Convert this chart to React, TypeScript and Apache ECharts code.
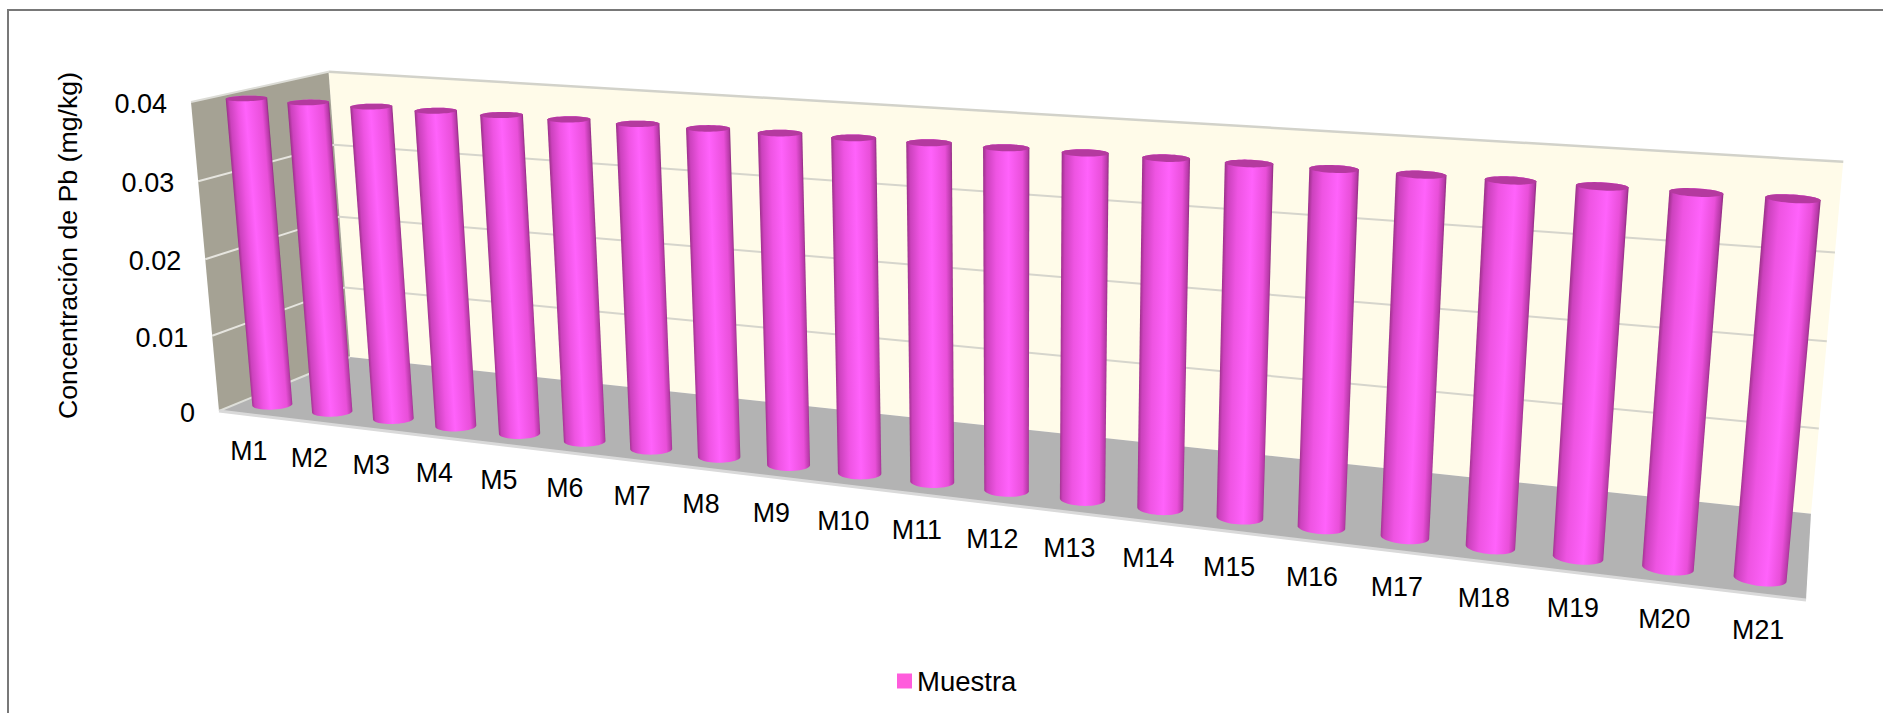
import React, { useEffect, useRef } from "react";
import * as echarts from "echarts";

const categories = ["M1","M2","M3","M4","M5","M6","M7","M8","M9","M10","M11","M12","M13","M14","M15","M16","M17","M18","M19","M20","M21"];
const muestra = [0.04,0.04,0.04,0.04,0.04,0.04,0.04,0.04,0.04,0.04,0.04,0.04,0.04,0.04,0.04,0.04,0.04,0.04,0.04,0.04,0.04];
const yTicks = [0, 0.01, 0.02, 0.03, 0.04];
const yTickLabels = ["0", "0.01", "0.02", "0.03", "0.04"];
const yMax = 0.04;

const FONT = '"Liberation Sans", Arial, sans-serif';
const SWATCH = "#ff5cdc";

// Perspective box: screen positions of the front-bottom-left corner and its three
// neighbours, with the homogeneous weight of each neighbour.
const O = [219, 411];
const PX = [1806, 600];
const PY = [191, 102];
const PZ = [350, 357];
const WX = 0.785;
const WY = 0.966;
const WZ = 1.087;

// X: along the categories, Y: up the value axis, Z: towards the back wall (all 0..1).
function project(X: number, Y: number, Z: number): [number, number] {
  const w = 1 + (WX - 1) * X + (WY - 1) * Y + (WZ - 1) * Z;
  const hx = O[0] + X * (WX * PX[0] - O[0]) + Y * (WY * PY[0] - O[0]) + Z * (WZ * PZ[0] - O[0]);
  const hy = O[1] + X * (WX * PX[1] - O[1]) + Y * (WY * PY[1] - O[1]) + Z * (WZ * PZ[1] - O[1]);
  return [hx / w, hy / w];
}

// Grid rectangle is only a scale holder; its unit square feeds project().
function toUnit(params: any, api: any, category: number, value: number) {
  const cs = params.coordSys;
  const p = api.coord([category, value]);
  return { X: (p[0] - cs.x) / cs.width, Y: 1 - (p[1] - cs.y) / cs.height };
}

function convexHull(points: [number, number][]) {
  const pts = points.slice().sort((a, b) => a[0] - b[0] || a[1] - b[1]);
  const cross = (o: number[], a: number[], b: number[]) =>
    (a[0] - o[0]) * (b[1] - o[1]) - (a[1] - o[1]) * (b[0] - o[0]);
  const lower: [number, number][] = [];
  for (const p of pts) {
    while (lower.length >= 2 && cross(lower[lower.length - 2], lower[lower.length - 1], p) <= 0) lower.pop();
    lower.push(p);
  }
  const upper: [number, number][] = [];
  for (let i = pts.length - 1; i >= 0; i--) {
    const p = pts[i];
    while (upper.length >= 2 && cross(upper[upper.length - 2], upper[upper.length - 1], p) <= 0) upper.pop();
    upper.push(p);
  }
  return lower.slice(0, -1).concat(upper.slice(0, -1));
}

const BAR_Z = 0.17;
const BAR_RX = 0.0135;
const BAR_RZ = 0.08;

function ring(X: number, Y: number) {
  const pts: [number, number][] = [];
  for (let k = 0; k < 48; k++) {
    const a = (k / 48) * Math.PI * 2;
    pts.push(project(X + BAR_RX * Math.cos(a), Y, BAR_Z + BAR_RZ * Math.sin(a)));
  }
  return pts;
}

function renderCylinder(params: any, api: any) {
  const i = api.value(0);
  const v = api.value(1);
  const base = toUnit(params, api, i, 0);
  const top = toUnit(params, api, i, v);
  const bottomRing = ring(base.X, base.Y);
  const topRing = ring(top.X, top.Y);
  const hull = convexHull(bottomRing.concat(topRing));

  const a = project(top.X, top.Y, BAR_Z);
  const b = project(base.X, base.Y, BAR_Z);
  const len = Math.hypot(b[0] - a[0], b[1] - a[1]);
  const n = [(b[1] - a[1]) / len, -(b[0] - a[0]) / len];
  const nx = n[0] >= 0 ? n : [-n[0], -n[1]];
  const d = hull.map((p) => p[0] * nx[0] + p[1] * nx[1]);
  const lo = Math.min(...d);
  const hi = Math.max(...d);
  const cx = (a[0] + b[0]) / 2;
  const cy = (a[1] + b[1]) / 2;
  const c0 = cx * nx[0] + cy * nx[1];
  const peak = 0.46 + (0.16 * i) / (categories.length - 1);
  const fill = new echarts.graphic.LinearGradient(
    cx + (lo - c0) * nx[0],
    cy + (lo - c0) * nx[1],
    cx + (hi - c0) * nx[0],
    cy + (hi - c0) * nx[1],
    [
      { offset: 0, color: "#9a3088" },
      { offset: 0.08, color: "#cc42bd" },
      { offset: 0.28, color: "#ee54e2" },
      { offset: peak, color: "#ff62fb" },
      { offset: 0.85, color: "#e94fd9" },
      { offset: 0.96, color: "#b83aa8" },
      { offset: 1, color: "#8e2c80" },
    ],
    true
  );

  const front = project(base.X, 0, 0);
  return {
    type: "group",
    children: [
      { type: "polygon", shape: { points: hull }, style: { fill } },
      { type: "polygon", shape: { points: topRing }, style: { fill: "#b43a9f" } },
      {
        type: "text",
        style: {
          text: categories[i],
          x: front[0],
          y: front[1] + 36,
          align: "center",
          verticalAlign: "middle",
          font: `26.8px ${FONT}`,
          fill: "#000",
        },
      },
    ],
  };
}

function renderBox(params: any, api: any) {
  const line = (p: number[], q: number[], stroke: string, lineWidth: number) => ({
    type: "line",
    shape: { x1: p[0], y1: p[1], x2: q[0], y2: q[1] },
    style: { stroke, lineWidth },
  });
  const quad = (pts: number[][], fill: string) => ({ type: "polygon", shape: { points: pts }, style: { fill } });

  const children: any[] = [
    quad([project(1, 0, 1), project(1, 1, 1), project(0, 1, 1), project(0, 0, 1)], "#fffbe9"),
    quad([project(0, 0, 0), project(0, 0, 1), project(0, 1, 1), project(0, 1, 0)], "#a5a294"),
    quad([project(0, 0, 0), project(1, 0, 0), project(1, 0, 1), project(0, 0, 1)], "#b3b3b3"),
  ];
  yTicks.forEach((tick, idx) => {
    const Y = toUnit(params, api, 0, tick).Y;
    if (idx > 0 && idx < yTicks.length - 1) {
      children.push(line(project(0, Y, 0), project(0, Y, 1), "#e6e5df", 2));
      children.push(line(project(0, Y, 1), project(1, Y, 1), "#d6d5cc", 2));
    }
    const p = project(0, Y, 0);
    children.push({
      type: "text",
      style: {
        text: yTickLabels[idx],
        x: p[0] - 24,
        y: p[1] + 2,
        align: "right",
        verticalAlign: "middle",
        font: `27px ${FONT}`,
        fill: "#000",
      },
    });
  });
  children.push(line(project(0, 1, 1), project(1, 1, 1), "#d2d2ca", 2.5));
  children.push(line(project(0, 1, 0), project(0, 1, 1), "#dcdcd6", 2));
  children.push(line(project(0, 0, 0), project(0, 0, 1), "#dedfd9", 2));
  children.push(line(project(0, 0, 0), project(1, 0, 0), "#d9d9d9", 3));
  return { type: "group", children };
}

export default function App() {
  const ref = useRef<HTMLDivElement>(null);
  useEffect(() => {
    if (!ref.current) return;
    document.body.style.margin = "0";
    const chart = echarts.init(ref.current, undefined, { renderer: "svg" });
    chart.setOption({
      animation: false,
      backgroundColor: "#ffffff",
      grid: { left: 200, top: 100, width: 1400, height: 300, show: false },
      xAxis: { type: "category", data: categories, show: false },
      yAxis: { type: "value", min: 0, max: yMax, interval: 0.01, show: false },
      legend: {
        data: [{ name: "Muestra", icon: "rect", itemStyle: { color: SWATCH } }],
        left: 897,
        top: 667,
        padding: 0,
        itemWidth: 15,
        itemHeight: 15,
        itemGap: 0,
        textStyle: { fontFamily: FONT, fontSize: 27.5, color: "#000", padding: [0, 0, 0, 0] },
      },
      graphic: [
        {
          type: "line",
          shape: { x1: 7, y1: 10, x2: 1883, y2: 10 },
          style: { stroke: "#787878", lineWidth: 2 },
          silent: true,
        },
        {
          type: "line",
          shape: { x1: 8, y1: 9, x2: 8, y2: 713 },
          style: { stroke: "#787878", lineWidth: 2 },
          silent: true,
        },
        {
          type: "text",
          x: 68,
          y: 245.5,
          rotation: Math.PI / 2,
          style: {
            text: "Concentración de Pb (mg/kg)",
            align: "center",
            verticalAlign: "middle",
            font: `26.7px ${FONT}`,
            fill: "#000",
          },
        },
      ],
      series: [
        {
          type: "custom",
          name: "Pared",
          coordinateSystem: "cartesian2d",
          data: [[0, 0]],
          renderItem: renderBox,
          silent: true,
          z: 1,
        },
        {
          type: "custom",
          name: "Muestra",
          coordinateSystem: "cartesian2d",
          itemStyle: { color: SWATCH },
          encode: { x: 0, y: 1 },
          data: muestra.map((v, i) => [i, v]),
          renderItem: renderCylinder,
          z: 2,
        },
      ],
    });
    return () => chart.dispose();
  }, []);
  return <div ref={ref} style={{ position: "absolute", left: 0, top: 0, width: 1883, height: 713 }} />;
}
